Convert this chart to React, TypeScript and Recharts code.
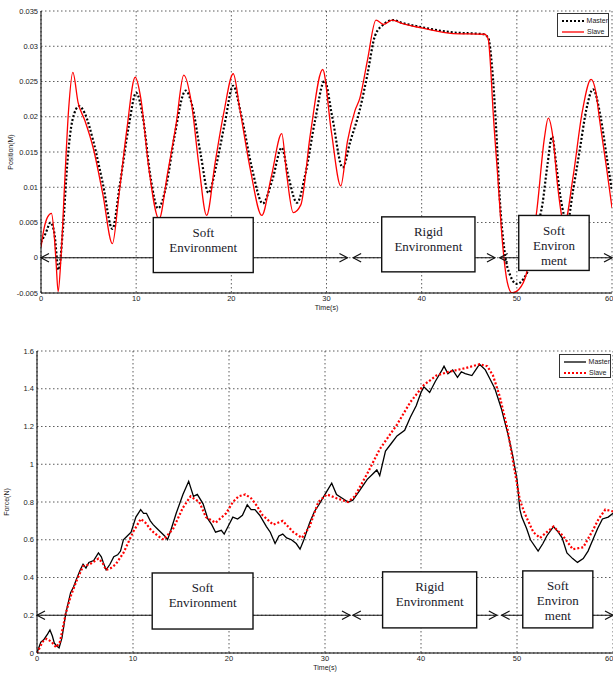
// @ts-nocheck
import {
  LineChart, Line, XAxis, YAxis, CartesianGrid,
  ReferenceLine, ReferenceArea, Legend,
} from 'recharts';

// position plot: [time (s), position (m)]
const masterPos = [
  [0, 0.0022], [0.5, 0.0035], [1.0, 0.005], [1.4, 0.0035], [1.85, -0.0017], [2.3, 0.004],
  [2.8, 0.014], [3.3, 0.0195], [4.0, 0.0215], [4.6, 0.0205], [5.5, 0.0165], [6.5, 0.0105],
  [7.5, 0.0041], [8.3, 0.0105], [9.2, 0.0185], [10.0, 0.0234], [10.7, 0.02], [11.5, 0.0115],
  [12.3, 0.007], [13.2, 0.0105], [14.0, 0.017], [15.2, 0.0237], [15.9, 0.0215], [16.8, 0.0145],
  [17.6, 0.0092], [18.4, 0.013], [19.3, 0.019], [20.2, 0.0244], [21.0, 0.0205], [22.2, 0.0125],
  [23.3, 0.0077], [24.3, 0.011], [25.3, 0.0156], [26.0, 0.0115], [26.9, 0.0078], [27.8, 0.012],
  [28.8, 0.0195], [29.8, 0.0251], [30.6, 0.02], [31.7, 0.0128], [32.5, 0.0165], [33.5, 0.021],
  [34.3, 0.026], [35.1, 0.0315], [36.1, 0.0332], [37.0, 0.0337], [38.0, 0.0333], [40.0, 0.0327],
  [43.0, 0.032], [46.5, 0.0317], [47.0, 0.0312], [47.4, 0.027], [47.8, 0.019], [48.2, 0.0085],
  [48.7, 0.001], [49.3, -0.0025], [50.0, -0.0037], [50.7, -0.003], [51.4, -0.0009], [52.1, 0.004],
  [52.7, 0.0077], [53.2, 0.013], [53.7, 0.0172], [54.2, 0.0125], [54.6, 0.0085], [55.3, 0.005],
  [55.9, 0.0095], [56.6, 0.0152], [57.3, 0.021], [58.0, 0.0239], [58.8, 0.02], [59.5, 0.0138],
  [60, 0.0095],
];

const slavePos = [
  [0, 0.0015], [0.3, 0.004], [0.7, 0.0058], [1.1, 0.0063], [1.4, 0.003], [1.6, -0.001],
  [1.8, -0.0048], [2.1, 0.0], [2.5, 0.011], [2.9, 0.021], [3.35, 0.0263], [3.9, 0.022],
  [4.6, 0.0195], [5.5, 0.0155], [6.5, 0.009], [7.5, 0.002], [8.2, 0.009], [9.0, 0.018],
  [9.9, 0.0256], [10.5, 0.0225], [11.3, 0.013], [12.4, 0.0055], [13.3, 0.012], [14.2, 0.019],
  [15.0, 0.0259], [15.8, 0.022], [16.6, 0.013], [17.4, 0.006], [18.3, 0.0135], [19.2, 0.0205],
  [20.2, 0.0261], [20.9, 0.021], [22.0, 0.0125], [23.2, 0.006], [24.2, 0.0115], [25.3, 0.0176],
  [25.8, 0.012], [26.5, 0.0064], [27.3, 0.0075], [28.3, 0.0175], [29.6, 0.0267], [30.5, 0.018],
  [31.5, 0.0102], [32.2, 0.0165], [33.0, 0.0209], [33.5, 0.0226], [34.3, 0.028], [35.2, 0.0337],
  [36.0, 0.0331], [36.9, 0.0337], [38.0, 0.0332], [40.0, 0.0326], [43.3, 0.0318], [46.6, 0.0317],
  [47.0, 0.031], [47.2, 0.028], [47.5, 0.0209], [48.0, 0.0114], [48.5, 0.002], [49.0, -0.0035],
  [49.5, -0.005], [50.2, -0.0045], [51.0, -0.0023], [51.6, 0.002], [52.1, 0.0067], [52.9, 0.017],
  [53.3, 0.0198], [53.8, 0.017], [54.3, 0.01], [55.0, 0.0048], [55.9, 0.0114], [56.9, 0.0209],
  [57.8, 0.0253], [58.3, 0.0235], [58.7, 0.0195], [59.4, 0.013], [60, 0.0071],
];

// force plot: [time (s), force (N)]
const masterForce = [
  [0, 0.0], [0.1, 0.016], [0.4, 0.058], [0.7, 0.07], [0.9, 0.085], [1.1, 0.1], [1.35, 0.122],
  [1.6, 0.09], [1.8, 0.053], [2.0, 0.04], [2.3, 0.027], [2.6, 0.08], [3.0, 0.21], [3.5, 0.32],
  [3.8, 0.35], [4.1, 0.39], [4.5, 0.44], [4.8, 0.47], [5.1, 0.45], [5.4, 0.48], [5.9, 0.49],
  [6.4, 0.53], [6.7, 0.51], [6.9, 0.48], [7.2, 0.44], [7.6, 0.47], [8.0, 0.51], [8.4, 0.52],
  [8.7, 0.54], [9.0, 0.6], [9.4, 0.62], [9.8, 0.64], [10.3, 0.72], [10.8, 0.76], [11.1, 0.74],
  [11.4, 0.74], [11.8, 0.7], [12.1, 0.68], [12.5, 0.66], [12.9, 0.64], [13.3, 0.62], [13.6, 0.6],
  [14.0, 0.66], [14.5, 0.74], [15.2, 0.84], [15.8, 0.91], [16.3, 0.83], [16.7, 0.84], [17.3, 0.79],
  [17.8, 0.71], [18.2, 0.68], [18.6, 0.64], [19.2, 0.65], [19.5, 0.63], [19.9, 0.67], [20.4, 0.72],
  [20.9, 0.71], [21.4, 0.73], [21.9, 0.785], [22.3, 0.76], [22.7, 0.76], [23.2, 0.73], [23.9, 0.67],
  [24.3, 0.64], [24.8, 0.58], [25.2, 0.62], [25.6, 0.63], [26.0, 0.61], [26.5, 0.6], [27.0, 0.58],
  [27.4, 0.55], [27.8, 0.6], [28.4, 0.69], [28.9, 0.75], [29.3, 0.78], [30.0, 0.84], [30.7, 0.9],
  [31.2, 0.84], [31.8, 0.82], [32.4, 0.8], [32.9, 0.81], [33.6, 0.86], [34.4, 0.92], [35.0, 0.95],
  [35.4, 0.97], [35.7, 0.94], [36.3, 1.07], [36.9, 1.11], [37.5, 1.15], [38.3, 1.18], [38.9, 1.25],
  [39.5, 1.31], [40.0, 1.38], [40.3, 1.41], [40.9, 1.38], [41.5, 1.44], [42.2, 1.5], [42.4, 1.52],
  [42.8, 1.48], [43.3, 1.5], [43.8, 1.46], [44.2, 1.49], [44.6, 1.48], [45.3, 1.47], [45.7, 1.5],
  [46.1, 1.53], [46.7, 1.5], [47.2, 1.45], [47.7, 1.4], [48.4, 1.29], [49.0, 1.17], [49.5, 1.06],
  [50.0, 0.92], [50.3, 0.76], [50.5, 0.72], [51.0, 0.66], [51.4, 0.6], [52.2, 0.54], [52.7, 0.58],
  [53.1, 0.62], [53.8, 0.67], [54.3, 0.64], [54.7, 0.61], [55.2, 0.53], [55.8, 0.5], [56.3, 0.48],
  [56.9, 0.5], [57.4, 0.54], [57.9, 0.6], [58.4, 0.66], [58.9, 0.71], [59.5, 0.72], [60, 0.74],
];

const slaveForce = [
  [0, 0], [0.6, 0.06], [1.0, 0.075], [1.5, 0.06], [2.0, 0.03], [2.4, 0.06], [3.0, 0.21], [3.5, 0.3],
  [4.1, 0.38], [4.8, 0.46], [5.5, 0.47], [6.4, 0.5], [6.8, 0.48], [7.2, 0.44], [7.7, 0.45], [8.2, 0.47],
  [9.0, 0.53], [10.0, 0.64], [10.8, 0.71], [11.3, 0.69], [11.9, 0.65], [12.6, 0.62], [13.2, 0.6],
  [14.2, 0.66], [15.2, 0.77], [16.0, 0.83], [16.9, 0.8], [17.6, 0.72], [18.6, 0.69], [19.7, 0.74],
  [20.4, 0.8], [21.0, 0.83], [21.7, 0.84], [22.3, 0.82], [22.9, 0.78], [23.5, 0.73], [24.6, 0.68],
  [25.6, 0.7], [26.7, 0.64], [27.6, 0.61], [28.4, 0.67], [29.3, 0.8], [30.2, 0.84], [31.2, 0.82],
  [32.4, 0.8], [33.1, 0.83], [34.4, 0.95], [35.7, 1.08], [37.5, 1.21], [38.9, 1.33], [40.3, 1.42],
  [41.6, 1.47], [42.9, 1.49], [44.7, 1.51], [46.1, 1.53], [46.9, 1.52], [47.5, 1.47], [48.2, 1.36],
  [49.0, 1.19], [49.6, 1.01], [50.3, 0.81], [50.8, 0.74], [51.7, 0.64], [52.4, 0.61], [53.1, 0.64],
  [53.8, 0.67], [54.8, 0.62], [55.8, 0.55], [56.9, 0.56], [57.9, 0.65], [58.5, 0.71], [59.2, 0.76],
  [60, 0.75],
];

const timeTicks = [0, 10, 20, 30, 40, 50, 60];
const posTicks = [-0.005, 0, 0.005, 0.01, 0.015, 0.02, 0.025, 0.03, 0.035];
const forceTicks = [0, 0.2, 0.4, 0.6, 0.8, 1, 1.2, 1.4, 1.6];

// environment phases: [x1, x2, y1, y2, text lines]
const posBoxes = [
  [11.8, 22.3, 0.0057, -0.0021, ['Soft', 'Environment']],
  [35.8, 45.6, 0.0058, -0.002, ['Rigid', 'Environment']],
  [50.2, 57.6, 0.006, -0.0018, ['Soft', 'Environ', 'ment']],
];
const forceBoxes = [
  [12.0, 22.5, 0.424, 0.127, ['Soft', 'Environment']],
  [36.0, 45.8, 0.43, 0.133, ['Rigid', 'Environment']],
  [50.6, 57.9, 0.435, 0.133, ['Soft', 'Environ', 'ment']],
];
const posArrows = [[0, 32.2], [32.8, 47.7], [48.2, 60]];
const forceArrows = [[0, 32.6], [32.9, 47.9], [48.4, 60]];

const pts = (arr) => arr.map(([t, v]) => ({ t, v }));

const tickStyle = { fontSize: 7.5, fill: '#222', fontFamily: 'Liberation Sans, Arial' };

function ArrowShape(p) {
  const { x1, y1, x2, y2 } = p;
  const l = 8, h = 4.3;
  return (
    <g>
      <line x1={x1} y1={y1} x2={x2} y2={y2} stroke="#111" strokeWidth={1.2} />
      <polyline points={`${x1 + l},${y1 - h} ${x1},${y1} ${x1 + l},${y1 + h}`} fill="none" stroke="#111" strokeWidth={1.2} />
      <polyline points={`${x2 - l},${y2 - h} ${x2},${y2} ${x2 - l},${y2 + h}`} fill="none" stroke="#111" strokeWidth={1.2} />
    </g>
  );
}

const boxShape = (lines) => (p) => {
  const { x, y, width, height } = p;
  const cx = x + width / 2;
  return (
    <g>
      <rect x={x} y={y} width={width} height={height} fill="#fff" stroke="#111" strokeWidth={1.4} />
      {lines.map((s, i) => (
        <text key={i} x={cx} y={y + 15 + i * 15} textAnchor="middle" dominantBaseline="central"
          fontFamily="Liberation Serif, Times New Roman, serif" fontSize={13} fill="#1a1a2a">
          {s}
        </text>
      ))}
    </g>
  );
};

function LegendBox({ masterDash, slaveDash, masterW, slaveW }) {
  const row = (label, color, dash, w) => (
    <div style={{ display: 'flex', alignItems: 'center', height: 11 }}>
      <svg width={22} height={6} style={{ marginRight: 3 }}>
        <line x1={0} y1={3} x2={22} y2={3} stroke={color} strokeWidth={w} strokeDasharray={dash} />
      </svg>
      <span>{label}</span>
    </div>
  );
  return (
    <div style={{
      border: '1px solid #333', background: '#fff', width: 52, height: 24, boxSizing: 'border-box',
      padding: '1px 0 0 4px', fontSize: 7, fontFamily: 'Liberation Sans, Arial', color: '#222', lineHeight: '11px',
    }}>
      {row('Master', '#000', masterDash, masterW)}
      {row('Slave', '#ff0000', slaveDash, slaveW)}
    </div>
  );
}

const yLabel = (text) => ({ viewBox }) => {
  const cx = viewBox.x - 1;
  const cy = viewBox.y + viewBox.height / 2;
  return (
    <text x={cx} y={cy} transform={`rotate(-90 ${cx} ${cy})`} textAnchor="middle" dominantBaseline="central"
      fontSize={7} fontFamily="Liberation Sans, Arial" fill="#222">
      {text}
    </text>
  );
};

const xLabel = ({ viewBox }) => (
  <text x={viewBox.x + viewBox.width / 2} y={viewBox.y + 14} textAnchor="middle" dominantBaseline="central"
    fontSize={7} fontFamily="Liberation Sans, Arial" fill="#222">
    Time(s)
  </text>
);

function Panel({ top, height, left, right, yDomain, yTicks, yName, master, slave, masterStyle, slaveStyle, curve, boxes, arrows, arrowY, legendLeft, legendTop }) {
  return (
    <div style={{ position: 'absolute', left: 0, top }}>
      <LineChart width={613} height={height} margin={{ top: 11, right, bottom: 0, left }}>
        <CartesianGrid stroke="#333" strokeDasharray="1.5 2.5" strokeWidth={0.8} />
        <XAxis dataKey="t" type="number" domain={[0, 60]} ticks={timeTicks} allowDataOverflow
          height={20} tickLine={false} tickSize={2} tickMargin={1} tick={tickStyle}
          axisLine={{ stroke: '#000', strokeWidth: 1 }} label={xLabel} />
        <XAxis xAxisId="top" orientation="top" type="number" domain={[0, 60]} ticks={timeTicks}
          height={0} tick={false} tickLine={false} axisLine={{ stroke: '#000', strokeWidth: 1 }} />
        <YAxis type="number" domain={yDomain} ticks={yTicks} allowDataOverflow width={30}
          tickLine={false} tickSize={2} tickMargin={1} tick={tickStyle} tickFormatter={(v) => String(v)}
          axisLine={{ stroke: '#000', strokeWidth: 1 }} label={yLabel(yName)} />
        <YAxis yAxisId="right" orientation="right" type="number" domain={yDomain} ticks={yTicks}
          width={0} tick={false} tickLine={false} axisLine={{ stroke: '#000', strokeWidth: 1 }} />
        <Line data={pts(master)} dataKey="v" name="Master" type={curve} dot={false} activeDot={false}
          isAnimationActive={false} {...masterStyle} />
        <Line data={pts(slave)} dataKey="v" name="Slave" type={curve} dot={false} activeDot={false}
          isAnimationActive={false} {...slaveStyle} />
        {arrows.map(([a, b], i) => (
          <ReferenceLine key={`a${i}`} segment={[{ x: a, y: arrowY }, { x: b, y: arrowY }]}
            shape={ArrowShape} zIndex={450} ifOverflow="visible" />
        ))}
        {boxes.map(([x1, x2, y1, y2, lines], i) => (
          <ReferenceArea key={`b${i}`} x1={x1} x2={x2} y1={y1} y2={y2}
            shape={boxShape(lines)} zIndex={460} ifOverflow="visible" />
        ))}
        <Legend
          layout="horizontal" verticalAlign="middle" align="center"
          wrapperStyle={{ left: legendLeft, top: legendTop, width: 52, height: 24 }}
          content={() => (
            <LegendBox
              masterDash={masterStyle.strokeDasharray} slaveDash={slaveStyle.strokeDasharray}
              masterW={masterStyle.strokeWidth} slaveW={slaveStyle.strokeWidth}
            />
          )}
        />
      </LineChart>
    </div>
  );
}

export default function App() {
  return (
    <div style={{ position: 'absolute', left: 0, top: 0, width: 613, height: 673, background: '#fff', overflow: 'hidden' }}>
      <Panel
        top={0} height={313} left={11} right={1}
        yDomain={[-0.005, 0.035]} yTicks={posTicks} yName="Position(M)"
        master={masterPos} slave={slavePos} curve="monotone"
        masterStyle={{ stroke: '#000', strokeWidth: 2.2, strokeDasharray: '2 2' }}
        slaveStyle={{ stroke: '#ff0000', strokeWidth: 1.3 }}
        boxes={posBoxes} arrows={posArrows} arrowY={0}
        legendLeft={557} legendTop={13}
      />
      <Panel
        top={340} height={333} left={7} right={0}
        yDomain={[0, 1.6]} yTicks={forceTicks} yName="Force(N)"
        master={masterForce} slave={slaveForce} curve="linear"
        masterStyle={{ stroke: '#000', strokeWidth: 1.3 }}
        slaveStyle={{ stroke: '#ff0000', strokeWidth: 2.2, strokeDasharray: '2 2' }}
        boxes={forceBoxes} arrows={forceArrows} arrowY={0.2}
        legendLeft={559} legendTop={14}
      />
    </div>
  );
}
